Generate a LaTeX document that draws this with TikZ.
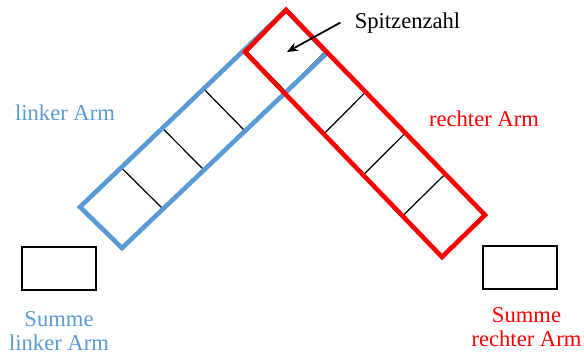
\documentclass[tikz,border=0pt]{standalone}
\usepackage{fontspec}
\setmainfont{Liberation Serif}
\usetikzlibrary{arrows.meta, positioning, calc}
\definecolor{armblau}{RGB}{91,155,213}
\definecolor{armrot}{RGB}{255,0,0}

\begin{document}
\begin{tikzpicture}[
  x=0.5pt, y=-0.5pt,
  cell/.style={draw=black, line width=0.6pt},
  armbox/.style={line width=2.3pt, line join=miter},
  sumbox/.style={draw, line width=1pt, minimum width=37pt, minimum height=21.5pt, inner sep=0pt},
  txt/.style={font=\fontsize{11.3}{12}\selectfont, align=center, inner sep=0pt},
  line/.style={-{Stealth[length=5.5pt, width=4.5pt]}, line width=0.9pt}
]
\useasboundingbox (0,0) rectangle (584,354);

% corners of the two arms
\coordinate (top) at (286,10);
\coordinate (lt) at (80,207);
\coordinate (lb) at (122,248);
\coordinate (lr) at (327,53);
\coordinate (rl) at (245,52);
\coordinate (rb) at (442,257);
\coordinate (rr) at (485,215);
\coordinate (tip) at (287,52);

% cells
\draw[cell] (top) -- (lt) (lr) -- (lb);
\draw[cell] (top) -- (rr) (rl) -- (rb);
\foreach \i in {0,...,5} {
  \draw[cell] ($(top)!\i/5!(lt)$) -- ($(lr)!\i/5!(lb)$);
  \draw[cell] ($(rl)!\i/5!(rb)$) -- ($(top)!\i/5!(rr)$);
}

% arms
\draw[armbox, armblau] (top) -- (lr) -- (lb) -- (lt) -- cycle;
\draw[armbox, armrot] (top) -- (rr) -- (rb) -- (rl) -- cycle;

\node[txt, anchor=base] (spitze) at (407.5,28) {Spitzenzahl};
\draw[line] ([xshift=-7pt]spitze.west) -- (tip);

\node[txt, anchor=base, text=armblau] (links) at (65,120) {linker Arm};
\node[txt, anchor=base, text=armrot] (rechts) at (484,126) {rechter Arm};

\node[sumbox] (sumL) at (59,268.5) {};
\node[sumbox] (sumR) at (519.5,267) {};

\node[txt, text=armblau, below=10pt of sumL] (sumLtxt) {Summe\\linker Arm};
\node[txt, text=armrot, below=9pt of sumR, xshift=3.5pt] (sumRtxt) {Summe\\rechter Arm};
\end{tikzpicture}
\end{document}
